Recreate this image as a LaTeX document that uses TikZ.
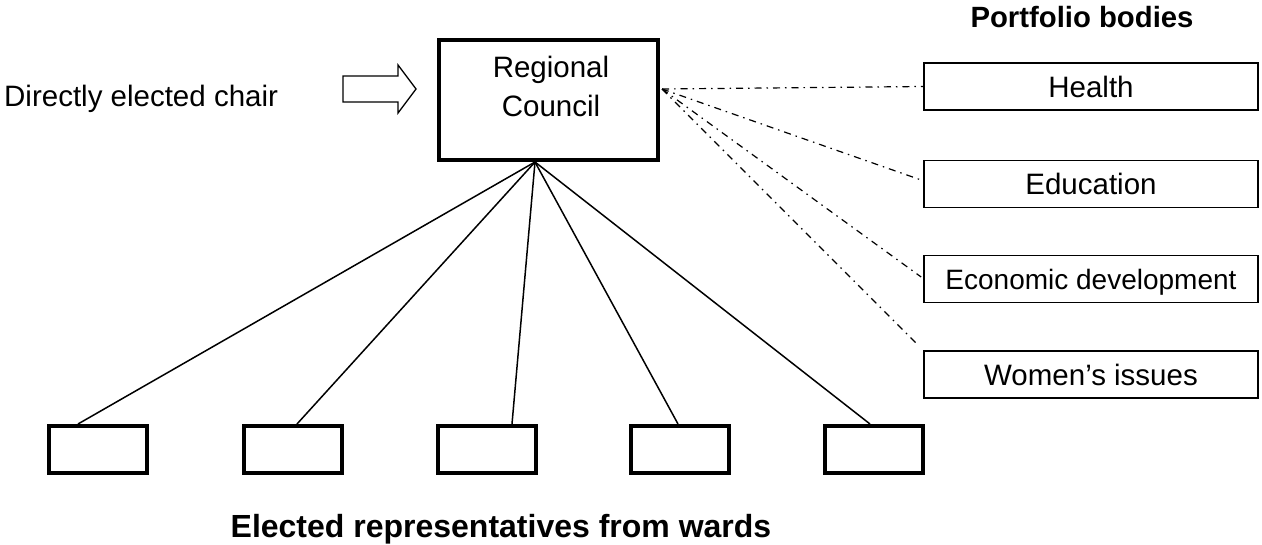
\documentclass[tikz,border=0pt]{standalone}
\usepackage{fontspec}
\setmainfont{Liberation Sans}
\usetikzlibrary{calc}
\begin{document}
\begin{tikzpicture}[x=1pt,y=-1pt,
  every node/.style={inner sep=0pt},
  lbl/.style={font=\fontsize{29.5}{35}\selectfont},
  head/.style={font=\bfseries\fontsize{29.3}{35}\selectfont},
  council/.style={draw, line width=4pt, minimum width=219pt, minimum height=120pt},
  ward/.style={draw, line width=4pt, minimum width=98pt, minimum height=47pt},
  body/.style={draw, line width=1.7pt, minimum width=334pt, minimum height=47pt,
    text height=21pt, text depth=0pt, font=\fontsize{29.5}{35}\selectfont},
  link/.style={line width=1.5pt},
  dotdash/.style={line width=1.2pt, dash pattern=on 7pt off 5pt on 1.5pt off 5pt},
]
\useasboundingbox (0,0) rectangle (1262,544);

% council and the chair that is elected to it
\node[council] (rc) at (548.5,100) {};
\node[lbl, anchor=base] (rc1) at (551,77) {Regional};
\node[lbl, anchor=base] (rc2) at (551,116) {Council};
\node[lbl, anchor=base west] (chair) at (4,106) {Directly elected chair};
\draw[line width=1.3pt, line join=miter]
  (343,76) -- (398,76) -- (398,65) -- (416,89) -- (398,113) -- (398,102) -- (343,102) -- cycle;

% portfolio bodies
\node[head, anchor=base] (pb) at (1082,27) {Portfolio bodies};
\node[body] (hb) at (1091,86.5) {Health};
\node[body] (ed) at (1091,184) {Education};
\node[body, font=\fontsize{28}{34}\selectfont] (ec) at (1091,279) {Economic development};
\node[body] (wi) at (1091,374.5) {Women’s issues};

% ward representatives
\node[ward] (w1) at (98,449.5) {};
\node[ward] (w2) at (292.5,449.5) {};
\node[ward] (w3) at (487,449.5) {};
\node[ward] (w4) at (680,449.5) {};
\node[ward] (w5) at (874,449.5) {};
\node[font=\bfseries\fontsize{32}{38}\selectfont, anchor=base] (er) at (501,537)
  {Elected representatives from wards};

% solid links from the council down to the wards
\coordinate (apex) at ($(rc.south)+(-13.5,0)$);
\draw[link] (apex) -- ($(w1.north)+(-20,0)$);
\draw[link] (apex) -- ($(w2.north)+(4.5,0)$);
\draw[link] (apex) -- ($(w3.north)+(25,0)$);
\draw[link] (apex) -- ($(w4.north)+(-2,0)$);
\draw[link] (apex) -- ($(w5.north)+(-4,0)$);

% dash-dot links to the portfolio bodies
\coordinate (hub) at ($(rc.east)+(2,-11)$);
\draw[dotdash] (hub) -- (hb.west);
\draw[dotdash] (hub) -- ($(ed.west)+(-2,-4)$);
\draw[dotdash] (hub) -- ($(ec.west)+(-2,-2)$);
\draw[dotdash] (hub) -- ($(wi.north west)+(-5,-5)$);
\end{tikzpicture}
\end{document}
